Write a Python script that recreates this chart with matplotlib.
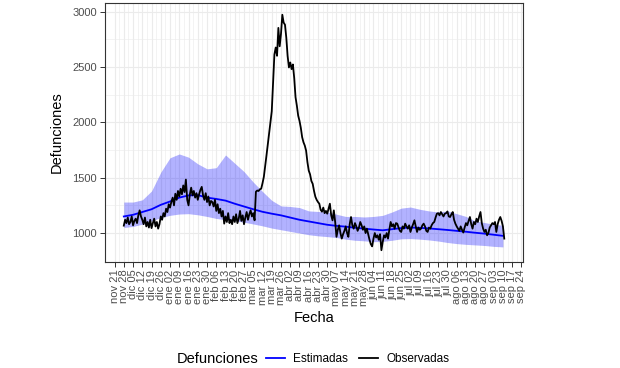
import matplotlib
matplotlib.use("Agg")
import matplotlib.pyplot as plt
from matplotlib.lines import Line2D
import pandas as pd

plt.rcParams['font.family'] = ['Liberation Sans', 'DejaVu Sans']

# daily observed deaths, 2019-11-28 .. 2020-09-11
obs_start = '2019-11-28'
observadas = [
    1067, 1120, 1090, 1140, 1080, 1100, 1150, 1070, 1110, 1130, 1090,
    1160, 1205, 1150, 1120,
    1080, 1140, 1060, 1100, 1050, 1120, 1045, 1090, 1130, 1060, 1100, 1040, 1080, 1150,
    1120, 1180, 1150, 1220, 1190, 1260, 1230,
    1283, 1320, 1250, 1355, 1300, 1380, 1330,
    1400, 1350, 1430, 1370, 1483, 1300,
    1250, 1350, 1410, 1340,
    1380, 1320, 1360, 1300, 1350, 1390, 1417, 1340,
    1300, 1360, 1280, 1330, 1250, 1290, 1280,
    1240, 1300, 1200, 1260, 1180, 1220, 1150, 1200,
    1085, 1150, 1100, 1180, 1090, 1120, 1080,
    1150, 1100, 1170, 1090, 1130, 1200, 1110, 1160, 1080, 1140, 1190, 1120, 1170,
    1205, 1150, 1180, 1115,
    1373, 1384, 1380, 1395, 1400, 1450, 1507, 1600, 1700, 1804,
    1900, 2000, 2100, 2350, 2612, 2675, 2600, 2852, 2686, 2800,
    2971, 2900, 2881, 2765, 2600, 2495, 2540, 2480, 2522, 2400,
    2226, 2150, 2060, 2013, 1950, 1866, 1820, 1790, 1744, 1640,
    1564, 1530, 1470, 1444, 1380, 1328, 1300, 1280, 1265, 1210,
    1193, 1230, 1180, 1200, 1175, 1220, 1265, 1160, 1115, 1205,
    1100, 966, 1030, 1070, 1000, 950, 990, 1020, 1060, 1000, 966,
    1080, 1145, 1070, 1040, 1090, 1060, 1020, 1050, 1100, 1070,
    1030, 1060, 1000, 1040, 990, 940, 900, 880, 950, 1000,
    960, 980, 940, 990, 845, 920, 980, 960, 1000, 950,
    1030, 1100, 1060, 1080, 1040, 1090, 1085, 1050, 1020, 1010,
    1060, 1040, 1085, 1060, 1040, 1070, 1010, 1050, 1080, 1115,
    1060, 1010, 1050, 1030, 1040, 1070, 1085, 1060, 1020, 1010,
    1050, 1040, 1070, 1090, 1100, 1140, 1175, 1180, 1160, 1190,
    1170, 1150, 1175, 1180, 1195, 1150, 1145, 1170, 1190, 1120,
    1085, 1060, 1040, 1020, 1060, 1030, 1005, 1050, 1090, 1070,
    1110, 1145, 1080, 1040, 1100, 1080, 1130, 1100, 1150, 1190,
    1090, 1040, 1010, 1030, 980, 1000, 1050, 1070, 1090, 1080,
    1100, 1010, 1080, 1120, 1145, 1110, 1060, 950,
]

# weekly estimate and its interval, starting on the same day
estimadas = [1150, 1165, 1190, 1215, 1255, 1285, 1320, 1340, 1343, 1320,
             1308, 1293, 1265, 1240, 1215, 1192, 1175, 1160, 1140, 1120,
             1105, 1090, 1075, 1065, 1058, 1048, 1040, 1032, 1025, 1035,
             1045, 1050, 1047, 1042, 1035, 1028, 1020, 1012, 1003, 995,
             985, 975]
banda_sup = [1280, 1280, 1300, 1380, 1550, 1680, 1714, 1685, 1625, 1580,
             1590, 1705, 1630, 1555, 1460, 1375, 1295, 1245, 1240, 1230,
             1200, 1195, 1190, 1170, 1150, 1150, 1145, 1150, 1160, 1190,
             1225, 1235, 1215, 1200, 1190, 1200, 1175, 1150, 1110, 1095,
             1080, 1070]
banda_inf = [1050, 1060, 1080, 1110, 1140, 1160, 1172, 1175, 1165, 1150,
             1132, 1120, 1112, 1098, 1082, 1065, 1045, 1030, 1015, 1000,
             985, 975, 968, 960, 945, 935, 930, 922, 925, 935,
             948, 950, 945, 938, 928, 915, 905, 898, 893, 888,
             880, 875]

meses = {11: 'nov', 12: 'dic', 1: 'ene', 2: 'feb', 3: 'mar', 4: 'abr',
         5: 'may', 6: 'jun', 7: 'jul', 8: 'ago', 9: 'sep'}
ticks = pd.date_range('2019-11-21', '2020-09-24', freq='7D')
tick_labels = [f"{meses[d.month]} {d.day:02d}" for d in ticks]

fechas_obs = pd.date_range(obs_start, periods=len(observadas), freq='D')
fechas_est = pd.date_range(obs_start, periods=len(estimadas), freq='7D')

fig = plt.figure(figsize=(6.2, 3.68), dpi=100)
ax = fig.add_axes([0.169, 0.288, 0.675, 0.704])

ax.fill_between(fechas_est, banda_inf, banda_sup, color='#0000FF', alpha=0.3,
                linewidth=0, zorder=2)
ax.plot(fechas_est, estimadas, color='#0000FF', lw=1.3, zorder=3)
ax.plot(fechas_obs, observadas, color='black', lw=1.3, zorder=4)

ax.margins(x=0.05, y=0.05)

ax.set_xticks(ticks)
ax.set_xticklabels(tick_labels, rotation=90, fontsize=8, color='#4D4D4D')
minor = ticks[:-1] + pd.Timedelta(days=3.5)
ax.set_xticks(minor, minor=True)
ax.set_yticks([1000, 1500, 2000, 2500, 3000])
ax.set_yticks([1250, 1750, 2250, 2750], minor=True)
ax.tick_params(axis='y', labelsize=8, labelcolor='#4D4D4D')
ax.tick_params(which='major', length=3.5, width=0.7, color='#333333', pad=2)
ax.tick_params(which='minor', length=0)

ax.grid(which='major', color='#EBEBEB', lw=0.8, zorder=0)
ax.grid(which='minor', color='#EBEBEB', lw=0.4, zorder=0)
ax.set_axisbelow(True)
for s in ax.spines.values():
    s.set_color('#333333')
    s.set_linewidth(0.8)

ax.set_xlabel('Fecha', fontsize=10.5, labelpad=3)
ax.set_ylabel('Defunciones', fontsize=10.5, labelpad=6)

fig.text(0.285, 0.025, 'Defunciones', fontsize=10.5, ha='left', va='center')
handles = [Line2D([], [], color='#0000FF', lw=1.3),
           Line2D([], [], color='black', lw=1.3)]
fig.legend(handles, ['Estimadas', 'Observadas'], loc='center',
           bbox_to_anchor=(0.577, 0.025), ncol=2, frameon=False, fontsize=8.5,
           handlelength=1.6, handletextpad=0.7, columnspacing=0.95)

fig.savefig('out.png', dpi=100)
